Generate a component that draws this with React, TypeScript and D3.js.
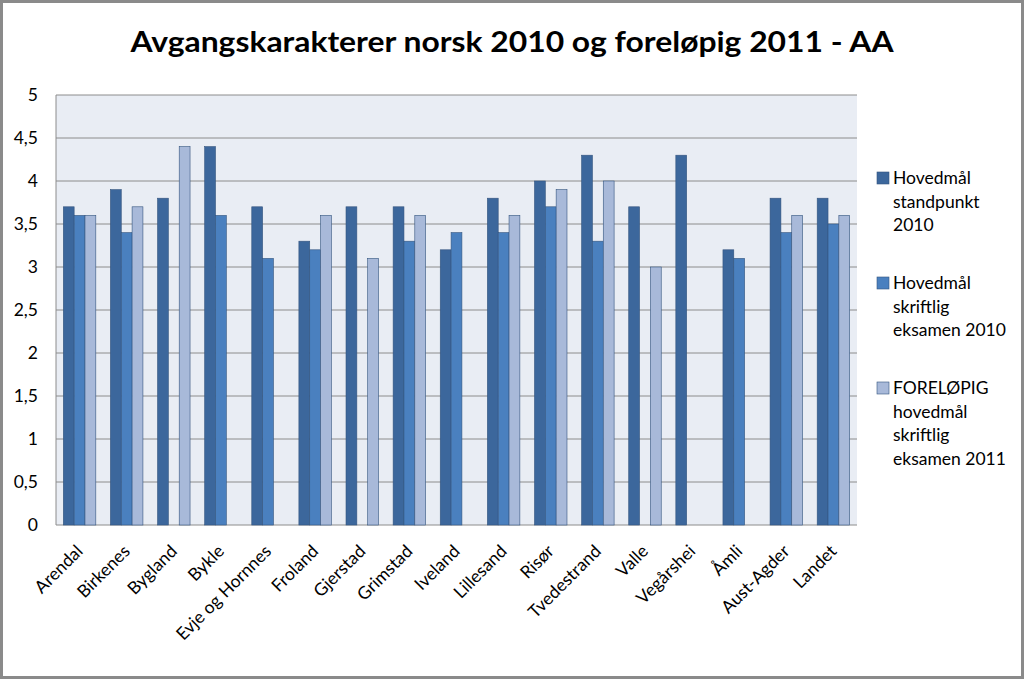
import React from 'react';
import * as d3 from 'd3';

const categories = [
  'Arendal', 'Birkenes', 'Bygland', 'Bykle', 'Evje og Hornnes', 'Froland', 'Gjerstad',
  'Grimstad', 'Iveland', 'Lillesand', 'Risør', 'Tvedestrand', 'Valle', 'Vegårshei',
  'Åmli', 'Aust-Agder', 'Landet',
];

const standpunkt2010 = [3.7, 3.9, 3.8, 4.4, 3.7, 3.3, 3.7, 3.7, 3.2, 3.8, 4.0, 4.3, 3.7, 4.3, 3.2, 3.8, 3.8];
const skriftlig2010 = [3.6, 3.4, null, 3.6, 3.1, 3.2, null, 3.3, 3.4, 3.4, 3.7, 3.3, null, null, 3.1, 3.4, 3.5];
const skriftlig2011 = [3.6, 3.7, 4.4, null, null, 3.6, 3.1, 3.6, null, 3.6, 3.9, 4.0, 3.0, null, null, 3.6, 3.6];

const seriesNames = [
  ['Hovedmål', 'standpunkt', '2010'],
  ['Hovedmål', 'skriftlig', 'eksamen 2010'],
  ['FORELØPIG', 'hovedmål', 'skriftlig', 'eksamen 2011'],
];
const seriesColors = ['#3c679c', '#4a80bf', '#a8b9d9'];
const yTicks = [0, 0.5, 1, 1.5, 2, 2.5, 3, 3.5, 4, 4.5, 5];

const width = 1024;
const height = 679;
const plot = { left: 56, right: 857, top: 95, bottom: 525 };
const font = 'Lato, "Open Sans", sans-serif';

export default function App() {
  const series = [standpunkt2010, skriftlig2010, skriftlig2011];

  const x = d3.scaleBand<string>()
    .domain(categories)
    .range([plot.left, plot.right])
    .paddingInner(0.31)
    .paddingOuter(0.155);

  const xInner = d3.scaleBand<number>()
    .domain(d3.range(series.length))
    .range([0, x.bandwidth()]);

  const y = d3.scaleLinear().domain([0, 5]).range([plot.bottom, plot.top]);

  const fmt = (v: number) => String(v).replace('.', ',');

  const legendStarts = [178, 283, 388];

  return (
    <svg width={width} height={height} style={{ display: 'block', position: 'absolute', left: 0, top: 0 }}>
      <rect x={0} y={0} width={width} height={height} fill="#fff" />
      <rect x={1.5} y={1.5} width={width - 3} height={height - 3} fill="none" stroke="#8a8a8a" strokeWidth={3} />

      <text
        x={512}
        y={52}
        textAnchor="middle"
        fontFamily={font}
        fontWeight="bold"
        fontSize={29}
        textLength={763}
        lengthAdjust="spacingAndGlyphs"
      >
        Avgangskarakterer norsk 2010 og foreløpig 2011 - AA
      </text>

      <rect
        x={plot.left}
        y={plot.top}
        width={plot.right - plot.left}
        height={plot.bottom - plot.top}
        fill="#e9edf4"
      />

      {yTicks.map(t => (
        <g key={t}>
          <line x1={plot.left} x2={plot.right} y1={y(t)} y2={y(t)} stroke="#8c8c8c" strokeWidth={1} />
          <text
            x={38}
            y={y(t)}
            dy="0.35em"
            textAnchor="end"
            fontFamily={font}
            fontSize={17.5}
            fill="#000"
          >
            {fmt(t)}
          </text>
        </g>
      ))}
      <line x1={plot.left} x2={plot.left} y1={plot.top} y2={plot.bottom} stroke="#8c8c8c" />

      {categories.map((c, i) => (
        <g key={c} transform={`translate(${x(c)},0)`}>
          {series.map((s, j) => {
            const v = s[i];
            if (v == null) return null;
            return (
              <rect
                key={j}
                x={xInner(j)}
                y={y(v)}
                width={xInner.bandwidth()}
                height={y(0) - y(v)}
                fill={seriesColors[j]}
                stroke="#34557f"
                strokeWidth={0.6}
              />
            );
          })}
        </g>
      ))}

      {categories.map(c => {
        const cx = (x(c) as number) + x.bandwidth() / 2;
        return (
          <text
            key={c}
            transform={`translate(${cx},${plot.bottom + 23}) rotate(-45)`}
            textAnchor="end"
            fontFamily={font}
            fontSize={17.5}
            dy="0.35em"
            fill="#000"
          >
            {c}
          </text>
        );
      })}

      {seriesNames.map((lines, k) => (
        <g key={k}>
          <rect x={877} y={legendStarts[k] - 6} width={12} height={12} fill={seriesColors[k]} stroke="#34557f" strokeWidth={0.6} />
          {lines.map((ln, m) => (
            <text
              key={m}
              x={893}
              y={legendStarts[k] + m * 23.5}
              dy="0.35em"
              fontFamily={font}
              fontSize={17.5}
              fill="#000"
            >
              {ln}
            </text>
          ))}
        </g>
      ))}
    </svg>
  );
}
